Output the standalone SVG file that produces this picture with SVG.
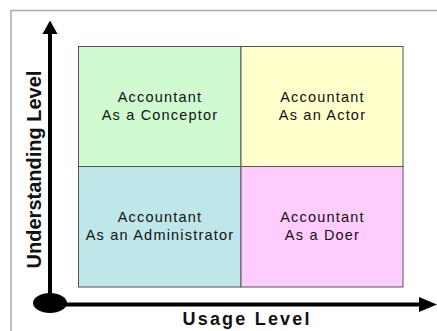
<svg xmlns="http://www.w3.org/2000/svg" width="437" height="331" viewBox="0 0 437 331">
<style>
.cell{stroke:#555;stroke-width:1}
.lbl{font-family:"Liberation Sans",Arial,sans-serif;font-size:14.5px;letter-spacing:1.2px;fill:#111;text-anchor:middle}
.axis{stroke:#000;stroke-width:4;fill:none}
</style>
<rect width="437" height="331" fill="#fff"/>
<path d="M11,331 V10.5 H437" fill="none" stroke="#aaa" stroke-width="1.5"/>
<g id="q-conceptor">
<rect class="cell" x="78.5" y="46.5" width="162.5" height="120" fill="#D0FBD0"/>
<text class="lbl" x="160" y="101.5">Accountant</text>
<text class="lbl" x="160" y="119.5">As a Conceptor</text>
</g>
<g id="q-actor">
<rect class="cell" x="241" y="46.5" width="162" height="120" fill="#FFFFCC"/>
<text class="lbl" x="322.5" y="101.5">Accountant</text>
<text class="lbl" x="322.5" y="119.5">As an Actor</text>
</g>
<g id="q-administrator">
<rect class="cell" x="78.5" y="166.5" width="162.5" height="120.5" fill="#BFE6E8"/>
<text class="lbl" x="160" y="221.5">Accountant</text>
<text class="lbl" x="160" y="240">As an Administrator</text>
</g>
<g id="q-doer">
<rect class="cell" x="241" y="166.5" width="162" height="120.5" fill="#FFCCFF"/>
<text class="lbl" x="322.5" y="221.5">Accountant</text>
<text class="lbl" x="322.5" y="240">As a Doer</text>
</g>
<g id="axes">
<line class="axis" x1="50" y1="303" x2="50" y2="32"/>
<polygon points="42.5,34 50,20.5 57.5,34" fill="#000"/>
<line class="axis" x1="50" y1="304.5" x2="421" y2="304.5"/>
<polygon points="419,297 437,304.5 419,312" fill="#000"/>
<ellipse cx="50" cy="303" rx="17" ry="10" fill="#000"/>
</g>
<g id="axis-labels">
<text x="246" y="325" font-family="Liberation Sans,Arial,sans-serif" font-weight="bold" font-size="18" text-anchor="middle" textLength="127" lengthAdjust="spacing" fill="#111">Usage Level</text>
<text transform="translate(41,169.5) rotate(-90)" x="0" y="0" font-family="Liberation Sans,Arial,sans-serif" font-weight="bold" font-size="20" text-anchor="middle" fill="#111">Understanding Level</text>
</g>
</svg>
